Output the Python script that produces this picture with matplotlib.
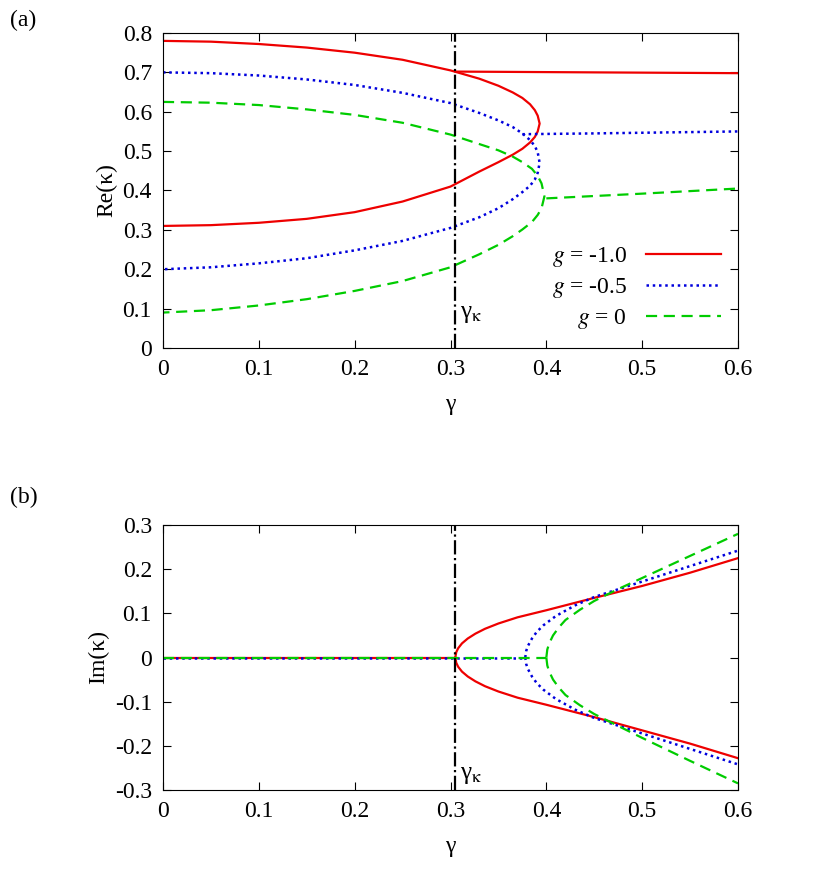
import numpy as np
import matplotlib.pyplot as plt

plt.rcParams['font.family'] = 'Liberation Serif'
plt.rcParams['font.size'] = 17
plt.rcParams['mathtext.fontset'] = 'stix'

gamma_k = 0.305

# panel (a): Re(kappa), closed branch listed upper-left -> turning point -> lower-left
red_re_x = [0, 0.05, 0.1, 0.15, 0.2, 0.25, 0.3, 0.33, 0.35, 0.365, 0.375, 0.383, 0.388, 0.391, 0.393, 0.391, 0.388, 0.383, 0.375, 0.365, 0.35, 0.33, 0.3, 0.25, 0.2, 0.15, 0.1, 0.05, 0]
red_re_y = [0.78, 0.778, 0.772, 0.763, 0.75, 0.732, 0.705, 0.684, 0.666, 0.649, 0.635, 0.619, 0.604, 0.59, 0.57, 0.55, 0.536, 0.522, 0.506, 0.491, 0.472, 0.448, 0.41, 0.372, 0.345, 0.328, 0.318, 0.312, 0.31]
red_flat_x = [0.305, 0.45, 0.6]
red_flat_y = [0.702, 0.700, 0.698]

blue_re_x = [0, 0.05, 0.1, 0.15, 0.2, 0.25, 0.3, 0.33, 0.35, 0.365, 0.375, 0.383, 0.388, 0.391, 0.393, 0.391, 0.388, 0.383, 0.375, 0.365, 0.35, 0.33, 0.3, 0.25, 0.2, 0.15, 0.1, 0.05, 0]
blue_re_y = [0.70, 0.698, 0.692, 0.682, 0.668, 0.648, 0.622, 0.597, 0.578, 0.561, 0.545, 0.528, 0.513, 0.497, 0.47, 0.445, 0.428, 0.412, 0.396, 0.378, 0.355, 0.332, 0.305, 0.272, 0.248, 0.228, 0.215, 0.205, 0.20]
blue_flat_x = [0.375, 0.45, 0.6]
blue_flat_y = [0.543, 0.545, 0.55]

green_re_x = [0, 0.05, 0.1, 0.15, 0.2, 0.25, 0.3, 0.33, 0.35, 0.365, 0.375, 0.385, 0.391, 0.395, 0.398, 0.395, 0.391, 0.385, 0.375, 0.365, 0.35, 0.33, 0.3, 0.25, 0.2, 0.15, 0.1, 0.05, 0]
green_re_y = [0.625, 0.623, 0.617, 0.606, 0.592, 0.572, 0.542, 0.518, 0.502, 0.486, 0.472, 0.455, 0.437, 0.418, 0.385, 0.355, 0.338, 0.32, 0.301, 0.284, 0.262, 0.238, 0.205, 0.17, 0.145, 0.124, 0.108, 0.096, 0.09]
green_flat_x = [0.40, 0.5, 0.6]
green_flat_y = [0.38, 0.392, 0.405]

# panel (b): Im(kappa)
red_im_x = [0.305, 0.306, 0.308, 0.312, 0.318, 0.326, 0.336, 0.35, 0.37, 0.4, 0.45, 0.5, 0.55, 0.6]
red_im_up = [0, 0.012, 0.021, 0.032, 0.043, 0.054, 0.065, 0.077, 0.091, 0.107, 0.135, 0.162, 0.192, 0.225]
red_im_dn = [-v for v in red_im_up[:-3]] + [-0.165, -0.195, -0.228]
blue_im_x = [0.378, 0.379, 0.381, 0.385, 0.39, 0.397, 0.41, 0.43, 0.45, 0.5, 0.55, 0.6]
blue_im_up = [0, 0.015, 0.027, 0.043, 0.058, 0.073, 0.094, 0.118, 0.137, 0.172, 0.207, 0.242]
blue_im_dn = [-v for v in blue_im_up]
green_im_x = [0.40, 0.401, 0.403, 0.407, 0.413, 0.42, 0.435, 0.45, 0.475, 0.5, 0.55, 0.6]
green_im_up = [0, 0.018, 0.032, 0.05, 0.068, 0.085, 0.108, 0.128, 0.155, 0.18, 0.23, 0.28]
green_im_dn = [-v for v in green_im_up[:-3]] + [-0.182, -0.234, -0.285]

RED, BLUE, GREEN = '#ee0000', '#0000dd', '#00cc00'
st_r = dict(color=RED, lw=1.6, ls='-')
st_b = dict(color=BLUE, lw=1.8, ls=(0, (1, 1.5)))
st_g = dict(color=GREEN, lw=1.6, ls=(0, (5, 3)))

fig = plt.figure(figsize=(8.3, 8.72), dpi=100)
ax1 = fig.add_axes([163/830, 1-348/872, 575/830, 315/872])
ax2 = fig.add_axes([163/830, 1-790/872, 575/830, 265/872])

ax1.plot(red_re_x, red_re_y, label='$g$ = -1.0', **st_r)
ax1.plot(red_flat_x, red_flat_y, **st_r)
ax1.plot(blue_re_x, blue_re_y, label='$g$ = -0.5', **st_b)
ax1.plot(blue_flat_x, blue_flat_y, **st_b)
ax1.plot(green_re_x, green_re_y, label='$g$ = 0', **st_g)
ax1.plot(green_flat_x, green_flat_y, **st_g)

ax2.plot([0, red_im_x[0]], [0, 0], **st_r)
ax2.plot(red_im_x, red_im_up, **st_r)
ax2.plot(red_im_x, red_im_dn, **st_r)
ax2.plot([0, blue_im_x[0]], [0, 0], **st_b)
ax2.plot(blue_im_x, blue_im_up, **st_b)
ax2.plot(blue_im_x, blue_im_dn, **st_b)
ax2.plot([0, green_im_x[0]], [0, 0], **st_g)
ax2.plot(green_im_x, green_im_up, **st_g)
ax2.plot(green_im_x, green_im_dn, **st_g)

for ax in (ax1, ax2):
    ax.axvline(gamma_k, color='black', lw=1.6, ls='-.')
    ax.set_xlim(0, 0.6)
    ax.set_xticks([0, 0.1, 0.2, 0.3, 0.4, 0.5, 0.6])
    ax.set_xticklabels(['0', '0.1', '0.2', '0.3', '0.4', '0.5', '0.6'])
    ax.tick_params(direction='in', top=True, right=True, length=6, pad=8)
    ax.set_xlabel('γ', labelpad=10)

ax1.set_ylim(0, 0.8)
ax1.set_yticks(np.arange(0, 0.81, 0.1))
ax1.set_yticklabels(['0', '0.1', '0.2', '0.3', '0.4', '0.5', '0.6', '0.7', '0.8'])
ax1.set_ylabel('Re(κ)')
ax1.text(0.31, 0.075, 'γ$_\\mathrm{\\kappa}$', fontsize=18)

ax2.set_ylim(-0.3, 0.3)
ax2.set_yticks([-0.3, -0.2, -0.1, 0, 0.1, 0.2, 0.3])
ax2.set_yticklabels(['-0.3', '-0.2', '-0.1', '0', '0.1', '0.2', '0.3'])
ax2.set_ylabel('Im(κ)')
ax2.text(0.31, -0.275, 'γ$_\\mathrm{\\kappa}$', fontsize=18)

ax1.legend(loc='lower right', frameon=False, markerfirst=False, handlelength=3.2,
           borderaxespad=0.3, labelspacing=0.3)

fig.text(0.012, 1-20/872, '(a)', fontsize=17, va='center')
fig.text(0.012, 1-497/872, '(b)', fontsize=17, va='center')

fig.savefig('out.png', dpi=100)
